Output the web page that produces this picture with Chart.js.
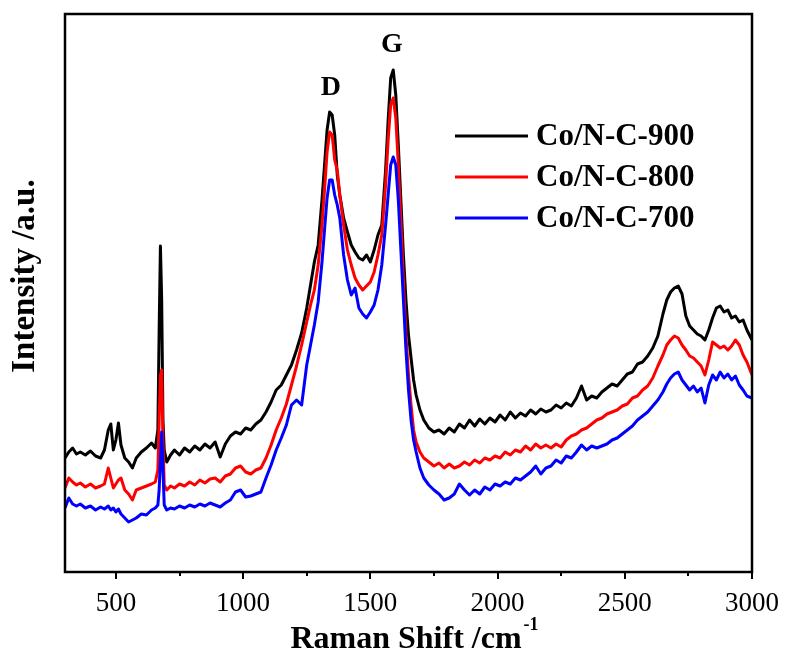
<!DOCTYPE html>
<html>
<head>
<meta charset="utf-8">
<script src="https://cdn.jsdelivr.net/npm/chart.js@4.4.1/dist/chart.umd.min.js"></script>
<style>
  html, body { margin: 0; padding: 0; background: #fff; }
</style>
</head>
<body>
<canvas id="ramanChart" width="785" height="657"></canvas>
<script>
// Raman shift (cm-1) sampling points
const shifts = [
  300, 315, 330, 345, 360, 380, 400, 420, 440, 455,
  470, 480, 490, 500, 510, 520, 535, 550, 565, 580,
  600, 620, 640, 655, 665, 670, 675, 680, 685, 690,
  700, 715, 730, 750, 770, 790, 810, 830, 850, 870,
  890, 910, 930, 950, 970, 990, 1010, 1030, 1050, 1070,
  1090, 1110, 1130, 1150, 1170, 1190, 1210, 1230, 1250, 1265,
  1280, 1295, 1310, 1320, 1330, 1340, 1350, 1360, 1370, 1380,
  1395, 1410, 1425, 1440, 1455, 1470, 1485, 1500, 1515, 1530,
  1545, 1560, 1570, 1580, 1590, 1600, 1610, 1620, 1630, 1640,
  1650, 1660, 1670, 1680, 1695, 1710, 1730, 1750, 1770, 1790,
  1810, 1830, 1850, 1870, 1890, 1910, 1930, 1950, 1970, 1990,
  2010, 2030, 2050, 2070, 2090, 2110, 2130, 2150, 2170, 2190,
  2210, 2230, 2250, 2270, 2290, 2310, 2330, 2350, 2370, 2390,
  2410, 2430, 2450, 2470, 2490, 2510, 2530, 2550, 2570, 2590,
  2610, 2630, 2650, 2665, 2680, 2695, 2710, 2725, 2740, 2755,
  2770, 2785, 2800, 2815, 2830, 2845, 2860, 2875, 2890, 2905,
  2920, 2935, 2950, 2965, 2980, 3000
];

// intensities (a.u.)
const co900 = [
  114, 120, 124, 118, 120, 117, 121, 116, 114, 122,
  142, 148, 122, 132, 149, 127, 114, 110, 104, 114,
  120, 124, 129, 124, 142, 242, 326, 272, 152, 122,
  110, 117, 122, 117, 124, 120, 126, 122, 128, 124,
  130, 115, 128, 136, 140, 138, 144, 142, 148, 152,
  160, 170, 182, 187, 197, 207, 222, 239, 264, 287,
  310, 327, 372, 407, 442, 460, 457, 437, 397, 377,
  354, 340, 327, 320, 314, 312, 317, 310, 322, 337,
  347, 402, 452, 494, 502, 477, 427, 372, 317, 272,
  237, 214, 192, 177, 162, 152, 144, 140, 142, 138,
  144, 140, 148, 144, 152, 146, 153, 148, 154, 150,
  157, 152, 160, 154, 159, 156, 162, 158, 163, 160,
  162, 167, 164, 169, 166, 174, 186, 172, 176, 174,
  180, 184, 188, 186, 192, 198, 200, 208, 210, 216,
  224, 236, 258, 272, 280, 284, 286, 278, 256, 246,
  242, 238, 236, 232, 242, 254, 264, 266, 260, 262,
  254, 256, 250, 252, 242, 232
];

const co800 = [
  84, 94, 90, 87, 89, 85, 88, 84, 86, 88,
  104, 94, 84, 88, 92, 94, 82, 78, 72, 82,
  84, 86, 88, 90, 102, 152, 197, 202, 132, 87,
  82, 86, 84, 88, 86, 90, 87, 92, 89, 93,
  94, 90, 96, 98, 104, 106, 100, 98, 102, 104,
  114, 127, 142, 154, 168, 187, 206, 227, 250, 267,
  282, 307, 347, 382, 420, 440, 437, 412, 402, 377,
  347, 322, 307, 294, 287, 282, 286, 290, 300, 317,
  337, 387, 432, 467, 474, 454, 407, 352, 292, 237,
  197, 167, 142, 130, 120, 114, 110, 106, 109, 104,
  108, 104, 106, 110, 107, 112, 109, 114, 112, 116,
  114, 120, 117, 122, 120, 126, 122, 128, 124, 127,
  124, 128, 125, 132, 136, 138, 142, 144, 148, 152,
  154, 158, 160, 162, 166, 168, 174, 176, 182, 186,
  194, 206, 217, 227, 232, 236, 234, 227, 222, 216,
  214, 210, 206, 197, 212, 230, 227, 224, 226, 222,
  226, 232, 227, 217, 210, 197
];

const co700 = [
  64, 74, 68, 66, 68, 64, 66, 62, 65, 63,
  66, 62, 64, 60, 63, 58, 54, 50, 52, 54,
  58, 57, 62, 64, 67, 82, 112, 140, 102, 67,
  62, 64, 63, 66, 64, 67, 65, 68, 66, 69,
  67, 65, 69, 72, 80, 82, 75, 76, 78, 80,
  94, 107, 122, 134, 147, 167, 172, 167, 207, 227,
  247, 270, 310, 342, 374, 392, 392, 377, 367, 354,
  317, 292, 277, 284, 264, 258, 254, 260, 267, 282,
  307, 347, 377, 407, 415, 407, 372, 322, 272, 222,
  182, 152, 132, 120, 104, 94, 87, 82, 78, 72,
  74, 78, 88, 82, 77, 82, 78, 85, 82, 88,
  86, 90, 88, 94, 92, 96, 100, 106, 98, 104,
  106, 112, 109, 116, 114, 120, 127, 122, 126, 124,
  126, 128, 132, 134, 138, 142, 146, 152, 156, 160,
  166, 172, 180, 188, 194, 198, 200, 192, 187, 182,
  186, 180, 184, 169, 187, 197, 192, 200, 194, 198,
  192, 196, 187, 182, 176, 174
];

const seriesNames = ["Co/N-C-900", "Co/N-C-800", "Co/N-C-700"];
const seriesColors = ["#000000", "#ff0000", "#0000ff"];
const xTickLabels = [500, 1000, 1500, 2000, 2500, 3000];
const xMinorTicks = [750, 1250, 1750, 2250, 2750];
const peakNames = ["D", "G"];
const peakShifts = [1345, 1585];
const peakLabelHeights = [484, 527];

const SERIF = "'Liberation Serif', 'Times New Roman', serif";

const toPoints = vals => shifts.map((s, i) => ({ x: s, y: vals[i] }));

// frame, ticks, axis titles, legend, peak labels
const decorPlugin = {
  id: "decor",
  afterDatasetsDraw(chart) {
    const { ctx, chartArea: a, scales } = chart;
    const x = scales.x, y = scales.y;
    ctx.save();
    ctx.strokeStyle = "#000";
    ctx.lineWidth = 2.5;
    ctx.strokeRect(a.left, a.top, a.right - a.left, a.bottom - a.top);

    ctx.lineWidth = 2;
    ctx.beginPath();
    xTickLabels.forEach(v => {
      const px = Math.round(x.getPixelForValue(v));
      ctx.moveTo(px, a.bottom);
      ctx.lineTo(px, a.bottom + 7);
    });
    xMinorTicks.forEach(v => {
      const px = Math.round(x.getPixelForValue(v));
      ctx.moveTo(px, a.bottom);
      ctx.lineTo(px, a.bottom + 4);
    });
    ctx.stroke();

    ctx.fillStyle = "#000";
    ctx.font = "27px " + SERIF;
    ctx.textAlign = "center";
    ctx.textBaseline = "middle";
    xTickLabels.forEach(v => {
      ctx.fillText(String(v), x.getPixelForValue(v), a.bottom + 32);
    });

    // x title with superscript
    const main = "Raman Shift /cm";
    const sup = "-1";
    ctx.font = "bold 32px " + SERIF;
    const wMain = ctx.measureText(main).width;
    ctx.font = "bold 18px " + SERIF;
    const wSup = ctx.measureText(sup).width;
    const cx = (a.left + a.right) / 2 + 6;
    const startX = cx - (wMain + wSup + 2) / 2;
    ctx.textAlign = "left";
    ctx.textBaseline = "alphabetic";
    ctx.font = "bold 32px " + SERIF;
    ctx.fillText(main, startX, 648);
    ctx.font = "bold 18px " + SERIF;
    ctx.fillText(sup, startX + wMain + 2, 630);

    // y title
    ctx.save();
    ctx.translate(25, 276);
    ctx.rotate(-Math.PI / 2);
    ctx.font = "bold 33px " + SERIF;
    ctx.textAlign = "center";
    ctx.textBaseline = "middle";
    ctx.fillText("Intensity /a.u.", 0, 0);
    ctx.restore();

    // peak labels
    ctx.font = "bold 28px " + SERIF;
    ctx.textAlign = "center";
    ctx.textBaseline = "middle";
    peakNames.forEach((n, i) => {
      ctx.fillText(n, x.getPixelForValue(peakShifts[i]), y.getPixelForValue(peakLabelHeights[i]));
    });

    // legend
    ctx.textAlign = "left";
    ctx.font = "bold 31px " + SERIF;
    seriesNames.forEach((n, i) => {
      const ly = 136 + i * 41;
      ctx.strokeStyle = seriesColors[i];
      ctx.lineWidth = 3;
      ctx.beginPath();
      ctx.moveTo(455, ly);
      ctx.lineTo(528, ly);
      ctx.stroke();
      ctx.fillText(n, 536, ly + 1);
    });
    ctx.restore();
  }
};

const ctx = document.getElementById("ramanChart").getContext("2d");
const ramanChart = new Chart(ctx, {
  type: "line",
  data: {
    datasets: [
      { label: seriesNames[0], data: toPoints(co900), borderColor: seriesColors[0], order: 2 },
      { label: seriesNames[1], data: toPoints(co800), borderColor: seriesColors[1], order: 1 },
      { label: seriesNames[2], data: toPoints(co700), borderColor: seriesColors[2], order: 0 },
    ],
  },
  options: {
    responsive: false,
    animation: false,
    devicePixelRatio: 1,
    layout: { padding: { left: 65, right: 33, top: 14, bottom: 85 } },
    elements: {
      line: { borderWidth: 3, tension: 0, fill: false, borderJoinStyle: "round" },
      point: { radius: 0 },
    },
    scales: {
      x: { type: "linear", min: 300, max: 3000, display: false },
      y: { min: 0, max: 558, display: false },
    },
    plugins: {
      legend: { display: false },
      tooltip: { enabled: false },
    },
  },
  plugins: [decorPlugin],
});
</script>
</body>
</html>
